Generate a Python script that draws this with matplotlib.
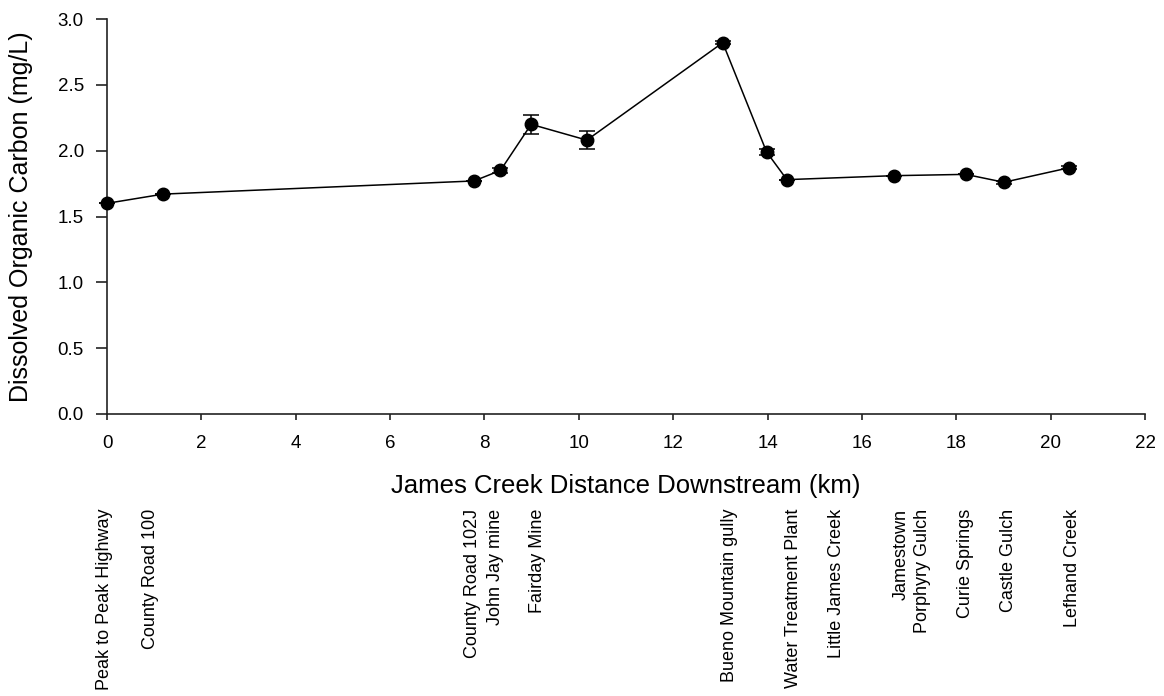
import matplotlib
matplotlib.use("Agg")
import matplotlib.pyplot as plt

plt.rcParams['font.family'] = ['Liberation Sans', 'DejaVu Sans']

# Sampling sites along James Creek
distance_km = [0.0, 1.19, 7.78, 8.34, 8.99, 10.17, 13.05, 13.98, 14.41, 16.67, 18.20, 19.01, 20.39]
doc_mgL = [1.60, 1.67, 1.77, 1.85, 2.20, 2.08, 2.82, 1.99, 1.78, 1.81, 1.82, 1.76, 1.87]
doc_err = [0.0, 0.0, 0.0, 0.02, 0.07, 0.07, 0.01, 0.02, 0.0, 0.0, 0.0, 0.01, 0.01]

# Site names written under the axis, with their horizontal positions (km)
site_names = ["Peak to Peak Highway", "County Road 100", "County Road 102J", "John Jay mine",
              "Fairday Mine", "Bueno Mountain gully", "Water Treatment Plant",
              "Little James Creek", "Jamestown", "Porphyry Gulch", "Curie Springs",
              "Castle Gulch", "Lefhand Creek"]
site_pos_km = [-0.05, 0.93, 7.74, 8.23, 9.12, 13.2, 14.54, 15.47, 16.84, 17.29, 18.19, 19.1, 20.47]

W, H = 1164, 696
ax_left, ax_right, ax_top, ax_bottom = 107, 1145, 19, 414

fig = plt.figure(figsize=(W / 100, H / 100), dpi=100)
ax = fig.add_axes([ax_left / W, 1 - ax_bottom / H, (ax_right - ax_left) / W, (ax_bottom - ax_top) / H])

ax.errorbar(distance_km, doc_mgL, yerr=doc_err, fmt='o-', color='black', ecolor='black',
            markersize=9, linewidth=1.1, elinewidth=1.1, capsize=5.5, capthick=1.1,
            clip_on=False, zorder=3)

ax.set_xlim(0, 22)
ax.set_ylim(0, 3.0)
ax.set_xticks(range(0, 23, 2))
yt = [0.0, 0.5, 1.0, 1.5, 2.0, 2.5, 3.0]
ax.set_yticks(yt)
ax.set_yticklabels([f"{v:.1f}" for v in yt])
for s in ['top', 'right']:
    ax.spines[s].set_visible(False)
for s in ['left', 'bottom']:
    ax.spines[s].set_linewidth(1.2)
    ax.spines[s].set_color('#222222')
ax.tick_params(axis='x', direction='out', length=4.3, width=1.2, labelsize=13.5, pad=11,
               color='#222222')
ax.tick_params(axis='y', direction='out', length=7.7, width=1.2, labelsize=13.5, pad=9,
               color='#222222')

ax.set_xlabel("James Creek Distance Downstream (km)", fontsize=18.5)
ax.xaxis.set_label_coords(0.5, -(474 - ax_bottom) / (ax_bottom - ax_top))
ax.set_ylabel("Dissolved Organic Carbon (mg/L)", fontsize=18)
ax.yaxis.set_label_coords(-(ax_left - 33) / (ax_right - ax_left), 0.5)

label_y = -(509 - ax_bottom) / (ax_bottom - ax_top)
trans = ax.get_xaxis_transform()
for name, pos in zip(site_names, site_pos_km):
    ax.text(pos, label_y, name, transform=trans, rotation=90,
            ha='center', va='top', fontsize=13)

fig.savefig("out.png", dpi=100)
